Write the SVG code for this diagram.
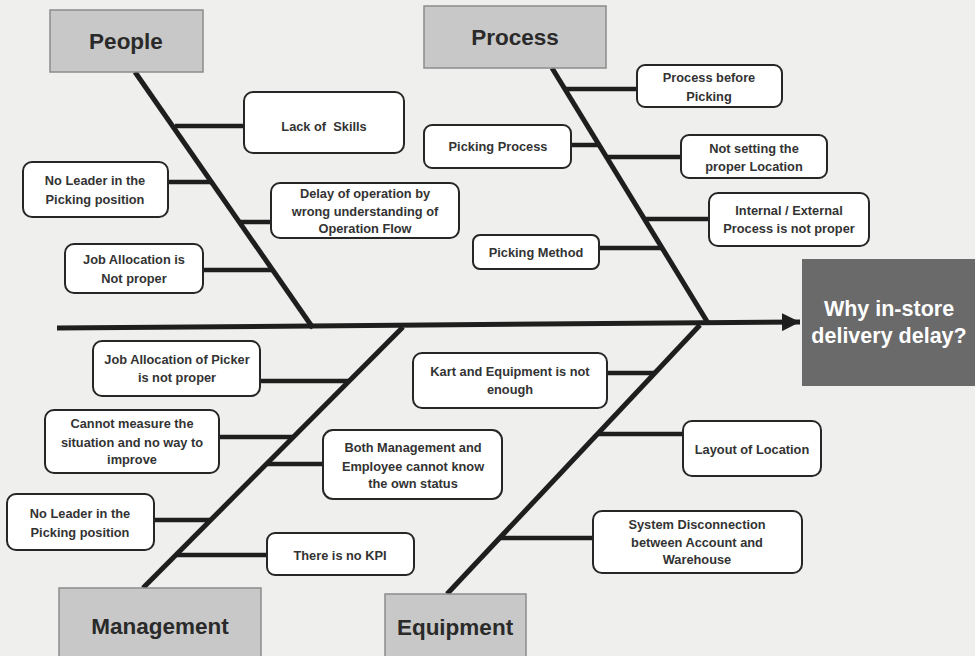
<svg xmlns="http://www.w3.org/2000/svg" width="975" height="656" viewBox="0 0 975 656">
<style>
.bg{fill:#efefed}
.cat rect{fill:#c8c8c8;stroke:#8c8c8c;stroke-width:1.5}
.cat text{font-family:"Liberation Sans",Arial,sans-serif;font-weight:bold;font-size:22.5px;fill:#2a2a2a;text-anchor:middle}
.cause rect{fill:#ffffff;stroke:#262626;stroke-width:2}
.cause text{font-family:"Liberation Sans",Arial,sans-serif;font-weight:bold;font-size:12.8px;fill:#333333;text-anchor:middle}
.bone{stroke:#1e1e1e;stroke-width:5;fill:none;stroke-linecap:butt}
.sub{stroke:#1e1e1e;stroke-width:4.5;fill:none}
.head rect{fill:#6a6a6a}
.head text{font-family:"Liberation Sans",Arial,sans-serif;font-weight:bold;font-size:21.5px;fill:#ffffff;text-anchor:middle}
</style>
<defs>
<marker id="arrow" markerUnits="userSpaceOnUse" markerWidth="20" markerHeight="18" refX="18" refY="9" orient="auto">
<path d="M0,0 L18,9 L0,18 Z" fill="#1e1e1e"/>
</marker>
</defs>
<rect class="bg" x="0" y="0" width="975" height="656"/>

<g id="connectors">
<path class="bone" d="M57,328 L800,322" marker-end="url(#arrow)"/>
<line class="bone" x1="135" y1="72" x2="313" y2="328"/>
<line class="bone" x1="552" y1="68" x2="708" y2="323"/>
<line class="bone" x1="143" y1="588" x2="403" y2="327"/>
<line class="bone" x1="447" y1="594" x2="700" y2="325"/>
<line class="sub" x1="175" y1="126" x2="244" y2="126"/>
<line class="sub" x1="168" y1="182" x2="211" y2="182"/>
<line class="sub" x1="239" y1="222" x2="271" y2="222"/>
<line class="sub" x1="203" y1="270" x2="273" y2="270"/>
<line class="sub" x1="565" y1="89" x2="637" y2="89"/>
<line class="sub" x1="571" y1="145" x2="599" y2="145"/>
<line class="sub" x1="607" y1="157" x2="681" y2="157"/>
<line class="sub" x1="645" y1="219" x2="709" y2="219"/>
<line class="sub" x1="599" y1="248" x2="663" y2="248"/>
<line class="sub" x1="260" y1="381" x2="349" y2="381"/>
<line class="sub" x1="219" y1="437" x2="293" y2="437"/>
<line class="sub" x1="266" y1="464" x2="323" y2="464"/>
<line class="sub" x1="154" y1="520" x2="210" y2="520"/>
<line class="sub" x1="175" y1="555" x2="267" y2="555"/>
<line class="sub" x1="607" y1="373" x2="655" y2="373"/>
<line class="sub" x1="598" y1="434" x2="683" y2="434"/>
<line class="sub" x1="500" y1="538" x2="593" y2="538"/>
</g>

<g id="people" class="cat"><rect x="50" y="10" width="153" height="62"/><text x="126" y="49">People</text></g>
<g id="process" class="cat"><rect x="424" y="6" width="182" height="62"/><text x="515" y="45">Process</text></g>
<g id="management" class="cat"><rect x="59" y="588" width="202" height="72"/><text x="160" y="634">Management</text></g>
<g id="equipment" class="cat"><rect x="385" y="594" width="141" height="66"/><text x="455" y="635">Equipment</text></g>

<g id="effect" class="head"><rect x="802" y="259" width="175" height="127"/><text x="889" y="316">Why in-store</text><text x="889" y="343">delivery delay?</text></g>

<g id="lack-of-skills" class="cause"><rect x="244" y="92" width="160" height="61" rx="9"/><text x="324" y="131" xml:space="preserve">Lack of  Skills</text></g>
<g id="no-leader-people" class="cause"><rect x="23" y="162" width="145" height="55" rx="9"/><text x="95" y="185">No Leader in the</text><text x="95" y="204">Picking position</text></g>
<g id="delay-operation" class="cause"><rect x="271" y="183" width="188" height="55" rx="9"/><text x="365" y="198">Delay of operation by</text><text x="365" y="216">wrong understanding of</text><text x="365" y="233">Operation Flow</text></g>
<g id="job-allocation" class="cause"><rect x="65" y="244" width="138" height="49" rx="9"/><text x="134" y="264">Job Allocation is</text><text x="134" y="283">Not proper</text></g>

<g id="process-before" class="cause"><rect x="637" y="65" width="145" height="42" rx="8"/><text x="709" y="82">Process before</text><text x="709" y="101">Picking</text></g>
<g id="picking-process" class="cause"><rect x="424" y="125" width="147" height="43" rx="8"/><text x="498" y="151">Picking Process</text></g>
<g id="not-setting" class="cause"><rect x="681" y="135" width="146" height="43" rx="8"/><text x="754" y="153">Not setting the</text><text x="754" y="171">proper Location</text></g>
<g id="internal-external" class="cause"><rect x="709" y="193" width="160" height="53" rx="9"/><text x="789" y="215">Internal / External</text><text x="789" y="233">Process is not proper</text></g>
<g id="picking-method" class="cause"><rect x="473" y="235" width="126" height="34" rx="7"/><text x="536" y="257">Picking Method</text></g>

<g id="job-allocation-picker" class="cause"><rect x="93" y="341" width="167" height="55" rx="9"/><text x="177" y="364">Job Allocation of Picker</text><text x="177" y="382">is not proper</text></g>
<g id="cannot-measure" class="cause"><rect x="45" y="410" width="174" height="63" rx="9"/><text x="132" y="428">Cannot measure the</text><text x="132" y="447">situation and no way to</text><text x="132" y="464">improve</text></g>
<g id="both-management" class="cause"><rect x="323" y="430" width="179" height="69" rx="10"/><text x="413" y="452">Both Management and</text><text x="413" y="471">Employee cannot know</text><text x="413" y="488">the own status</text></g>
<g id="no-leader-management" class="cause"><rect x="7" y="494" width="147" height="56" rx="9"/><text x="80" y="518">No Leader in the</text><text x="80" y="537">Picking position</text></g>
<g id="no-kpi" class="cause"><rect x="267" y="533" width="147" height="42" rx="8"/><text x="340" y="560">There is no KPI</text></g>

<g id="kart-equipment" class="cause"><rect x="413" y="353" width="194" height="55" rx="9"/><text x="510" y="376">Kart and Equipment is not</text><text x="510" y="394">enough</text></g>
<g id="layout-location" class="cause"><rect x="683" y="421" width="138" height="55" rx="9"/><text x="752" y="454">Layout of Location</text></g>
<g id="system-disconnection" class="cause"><rect x="593" y="511" width="209" height="62" rx="9"/><text x="697" y="529">System Disconnection</text><text x="697" y="547">between Account and</text><text x="697" y="564">Warehouse</text></g>
</svg>
